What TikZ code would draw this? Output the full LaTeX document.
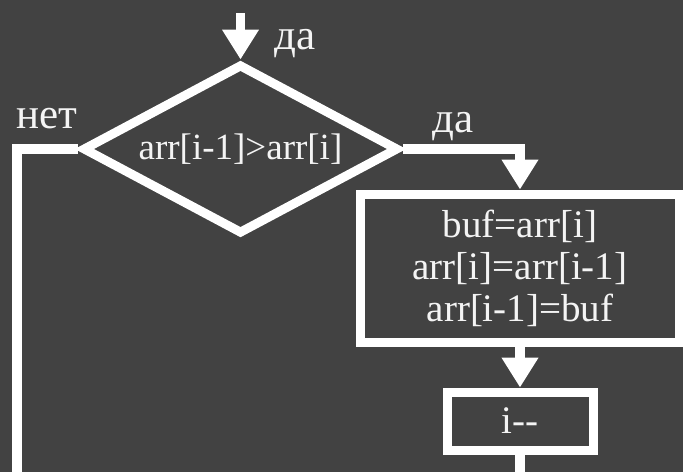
\documentclass[tikz,border=0pt]{standalone}
\usepackage{fontspec}
\setmainfont{Liberation Serif}
\usetikzlibrary{arrows.meta,shapes.geometric}
\definecolor{bgdark}{HTML}{424242}
\definecolor{inkwhite}{HTML}{F4F4F4}
\tikzset{
  wire/.style={draw=white, line width=9.5pt},
  flowarrow/.style={-{Triangle[width=35pt,length=30pt]}},
  shapeline/.style={draw=white, line width=9pt, text=inkwhite},
  decision/.style={shapeline, diamond, inner sep=0pt,
    minimum width=316pt, minimum height=170pt, shape aspect=1.86,
    font=\fontsize{37}{40}\selectfont},
  process/.style={shapeline, rectangle, inner sep=0pt, align=center,
    font=\fontsize{39}{42}\selectfont},
  answer/.style={text=inkwhite, inner sep=0pt, font=\fontsize{43}{46}\selectfont}
}
\begin{document}
\begin{tikzpicture}[x=1pt, y=-1pt]
  % page and background
  \fill[bgdark] (0,0) rectangle (683,472);
  \useasboundingbox (0,0) rectangle (683,472);

  % blocks
  \node[decision] (cmp) at (240.5,149) {arr[i-1]>arr[i]};
  \node[process, minimum width=319pt, minimum height=148pt] (swap) at (520,268)
    {buf=arr[i]\\arr[i]=arr[i-1]\\arr[i-1]=buf};
  \node[process, minimum width=146pt, minimum height=58pt] (dec) at (520,421) {i-{}-};

  % free ends of the connectors
  \coordinate (entry) at (240.5,13);
  \coordinate (noend) at (17,472);
  \coordinate (outend) at (520,472);

  % connectors
  \draw[wire, flowarrow] (entry) -- (cmp.north);
  \draw[wire, flowarrow] (cmp.east) -| (swap.north);
  \draw[wire, flowarrow] (swap.south) -- (dec.north);
  \draw[wire] (dec.south) -- (outend);
  \draw[wire] (cmp.west) -| (noend);

  % branch labels
  \node[answer, anchor=base west] (yestop) at (274,49) {да};
  \node[answer, anchor=base west] (yesright) at (432,132) {да};
  \node[answer, anchor=base west] (nolbl) at (16,128) {нет};
\end{tikzpicture}
\end{document}
